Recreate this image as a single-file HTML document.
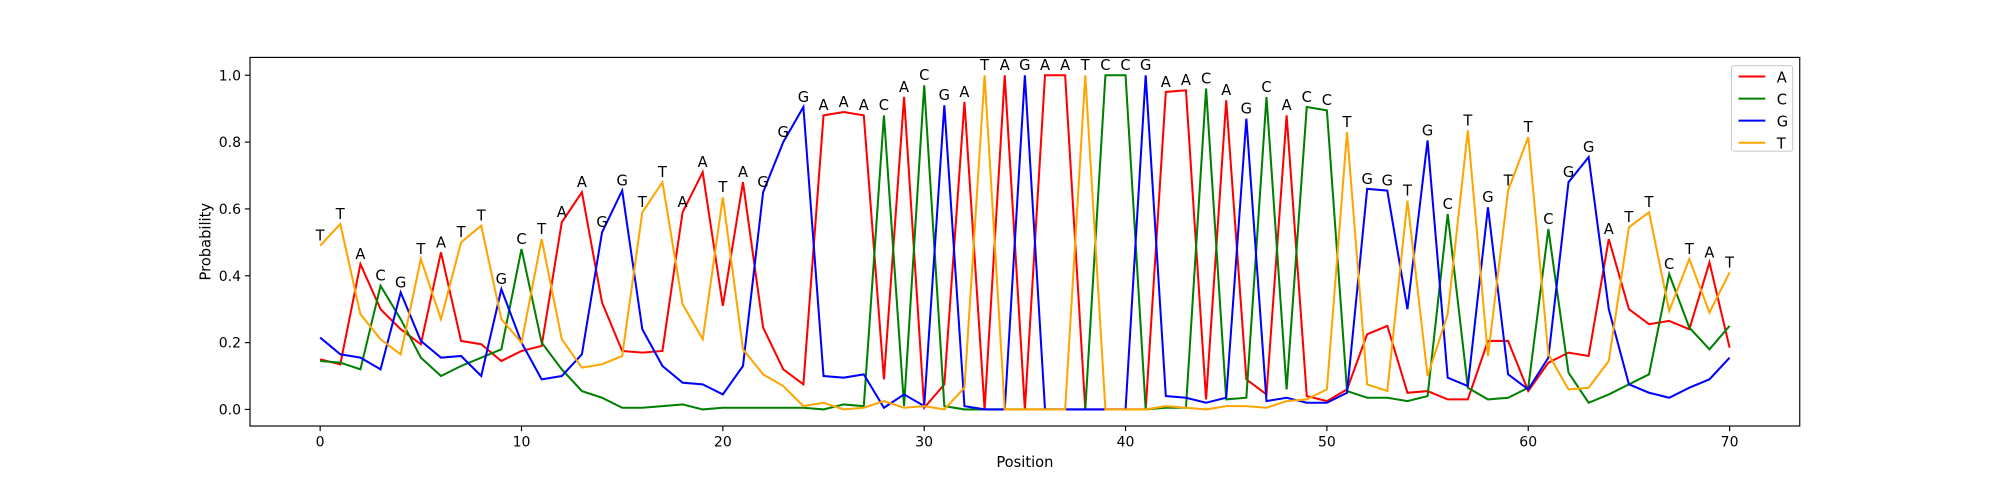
<!DOCTYPE html>
<html><head><meta charset="utf-8"><style>
body{margin:0;background:#fff;}
svg{display:block;font-family:"DejaVu Sans","Liberation Sans",sans-serif;}
</style></head><body>
<svg id="chart" width="2000" height="480" viewBox="0 0 1568 376.32"></svg>
<script>
const positions=[...Array(71).keys()];
const seriesA=[0.15,0.135,0.435,0.30,0.24,0.195,0.47,0.205,0.195,0.145,0.175,0.19,0.56,0.65,0.32,0.175,0.17,0.175,0.59,0.71,0.31,0.68,0.245,0.12,0.075,0.88,0.89,0.88,0.09,0.935,0.005,0.075,0.92,0,1,0,1,1,0,0,0,0,0.95,0.955,0.03,0.925,0.09,0.045,0.88,0.04,0.025,0.06,0.225,0.25,0.05,0.055,0.03,0.03,0.205,0.205,0.055,0.14,0.17,0.16,0.51,0.30,0.255,0.265,0.24,0.44,0.185];
const seriesC=[0.145,0.14,0.12,0.37,0.27,0.155,0.10,0.13,0.155,0.18,0.48,0.20,0.12,0.055,0.035,0.005,0.005,0.01,0.015,0,0.005,0.005,0.005,0.005,0.005,0,0.015,0.01,0.88,0.01,0.97,0.01,0,0,0,0,0,0,0,1,1,0,0.005,0.005,0.96,0.03,0.035,0.935,0.06,0.905,0.895,0.055,0.035,0.035,0.025,0.04,0.585,0.065,0.03,0.035,0.065,0.54,0.11,0.02,0.045,0.075,0.105,0.405,0.245,0.18,0.25];
const seriesG=[0.215,0.165,0.155,0.12,0.35,0.205,0.155,0.16,0.10,0.36,0.20,0.09,0.10,0.165,0.53,0.655,0.24,0.13,0.08,0.075,0.045,0.13,0.65,0.80,0.905,0.10,0.095,0.105,0.005,0.045,0.01,0.91,0.01,0,0,1,0,0,0,0,0,1,0.04,0.035,0.02,0.035,0.87,0.025,0.035,0.02,0.02,0.05,0.66,0.655,0.30,0.805,0.095,0.07,0.605,0.105,0.06,0.155,0.68,0.755,0.30,0.075,0.05,0.035,0.065,0.09,0.155];
const seriesT=[0.49,0.555,0.285,0.21,0.165,0.45,0.27,0.50,0.55,0.27,0.20,0.51,0.21,0.125,0.135,0.16,0.59,0.68,0.315,0.21,0.635,0.18,0.105,0.07,0.01,0.02,0,0.005,0.025,0.005,0.01,0,0.065,1,0,0,0,0,1,0,0,0,0.01,0.005,0,0.01,0.01,0.005,0.025,0.03,0.06,0.83,0.075,0.055,0.625,0.10,0.285,0.835,0.16,0.655,0.815,0.165,0.06,0.065,0.145,0.545,0.59,0.295,0.45,0.29,0.41];
const bases=["A","C","G","T"];
const colors=["#ff0000","#008000","#0000ff","#ffa500"];
const xTicks=[0,10,20,30,40,50,60,70];
const yTicks=[0,0.2,0.4,0.6,0.8,1.0];

const NS="http://www.w3.org/2000/svg";
const svg=document.getElementById("chart");
const L=196,R=1411,T=45,B=334;
const xs=v=>251+(v-0)*(1356-251)/70;
const ys=v=>321-v*262;
function mk(tag,attrs,parent){const e=document.createElementNS(NS,tag);for(const k in attrs)e.setAttribute(k,attrs[k]);(parent||svg).appendChild(e);return e;}

const gx=mk("g",{});


xTicks.forEach(t=>{
  mk("line",{x1:xs(t),x2:xs(t),y1:B,y2:B+4,stroke:"#000","stroke-width":0.9},gx);
  const tx=mk("text",{x:xs(t),y:B+16,"text-anchor":"middle","font-size":"11"},gx);
  
  
  tx.textContent=t;
});
const gy=mk("g",{});


yTicks.forEach(t=>{
  mk("line",{x1:L-4,x2:L,y1:ys(t),y2:ys(t),stroke:"#000","stroke-width":0.9},gy);
  const tx=mk("text",{x:L-7,y:ys(t)+4,"text-anchor":"end","font-size":"11"},gy);
  
  
  tx.textContent=t.toFixed(1);
});
const xl=mk("text",{x:(L+R)/2,y:366,"text-anchor":"middle","font-size":"11.5"});


xl.textContent="Position";
const yl=mk("text",{x:165,y:(T+B)/2,"text-anchor":"middle","font-size":"11.5",transform:`rotate(-90 165 ${(T+B)/2})`});


yl.textContent="Probability";

const all=[seriesA,seriesC,seriesG,seriesT];
all.forEach((s,k)=>{
  const p=mk("polyline",{points:s.map((v,i)=>xs(positions[i])+","+ys(v)).join(" "),fill:"none",stroke:colors[k],"stroke-width":1.6,"stroke-linejoin":"miter"});
  
  
});
positions.forEach((pos,i)=>{
  let best=0;for(let k=1;k<4;k++)if(all[k][i]>all[best][i])best=k;
  const tx=mk("text",{x:xs(pos),y:ys(all[best][i])-4,"text-anchor":"middle","font-size":"11.5"});
  
  
  tx.textContent=bases[best];
});
mk("rect",{x:L,y:T,width:R-L,height:B-T,fill:"none",stroke:"#000","stroke-width":0.9});

const lg=mk("g",{});


mk("rect",{x:1357.5,y:51.5,width:48,height:67,rx:2,fill:"#fff",stroke:"#ccc","stroke-width":0.9},lg);
bases.forEach((b,k)=>{
  const y=60+k*17.3;
  const ln=mk("line",{x1:1363,x2:1384,y1:y,y2:y,stroke:colors[k],"stroke-width":1.6},lg);
  
  
  const tx=mk("text",{x:1393,y:y+4.5,"font-size":"11.5"},lg);
  
  
  tx.textContent=b;
});
</script>
</body></html>
